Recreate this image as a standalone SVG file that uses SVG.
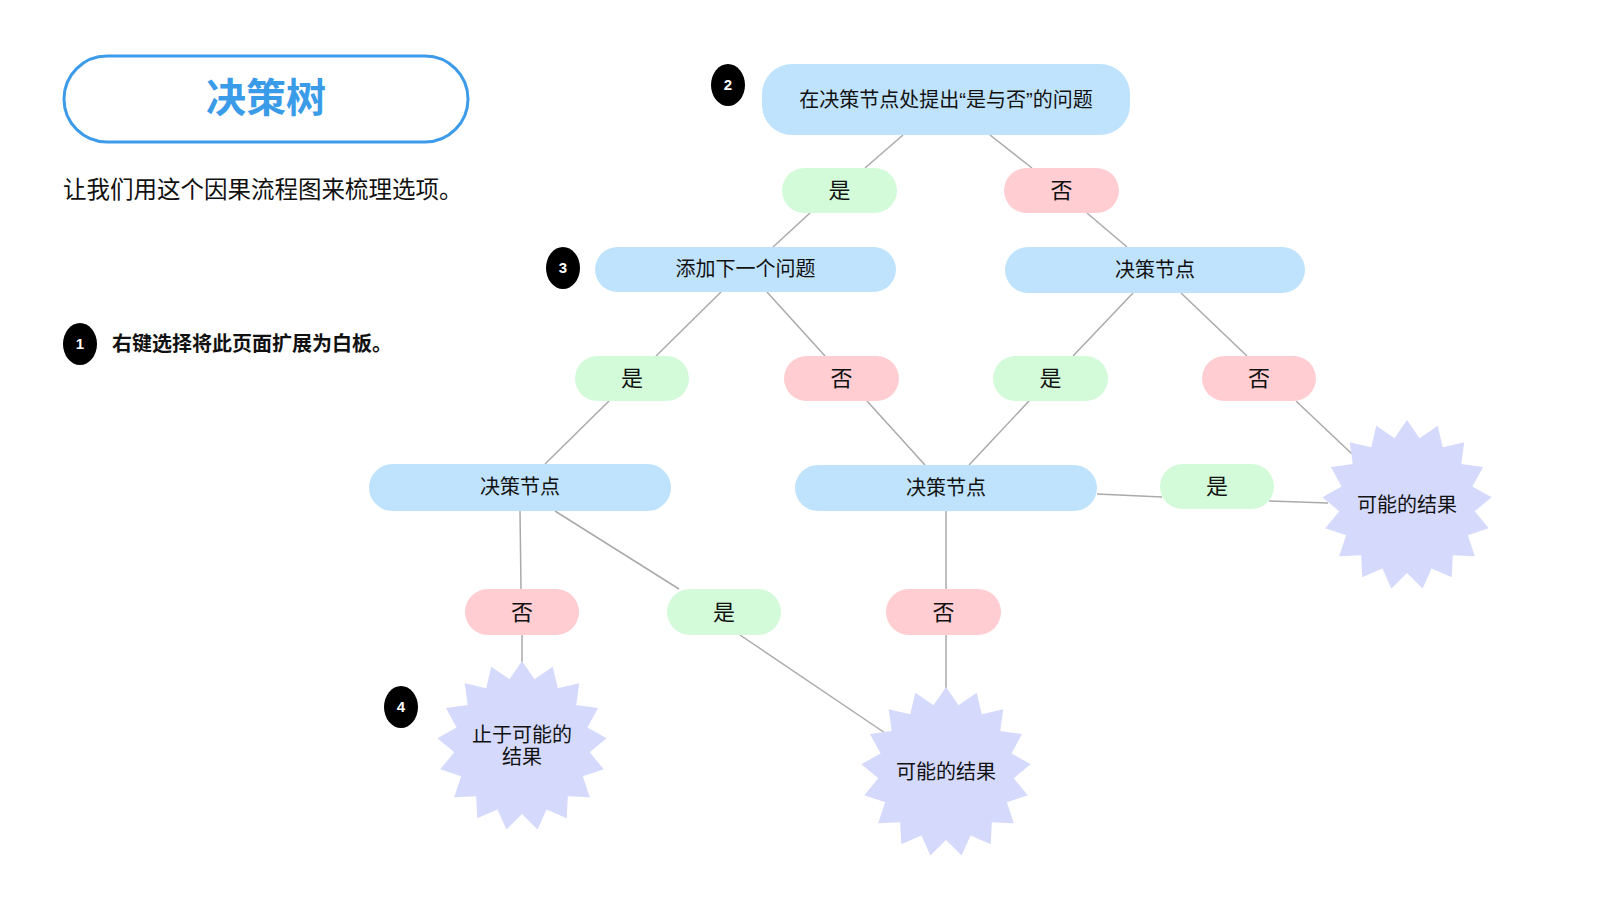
<svg xmlns="http://www.w3.org/2000/svg" xmlns:xlink="http://www.w3.org/1999/xlink" width="1600" height="900" viewBox="0 0 1600 900">
<style>
text{font-family:"Liberation Sans","Noto Sans CJK SC",sans-serif;fill:#111;}
.node{fill:#bfe3fd;}
.yes{fill:#d3fbd9;}
.no{fill:#ffcdd2;}
.star{fill:#d5dafd;}
.nt{font-size:20px;text-anchor:middle;}
.pt{font-size:22px;text-anchor:middle;}
.badge{fill:#000;}
.bt{font-size:15px;font-weight:bold;fill:#fff;text-anchor:middle;}
#connectors line{stroke:#aaaaaa;stroke-width:1.5;fill:none;}
</style>
<defs>
<polygon id="starShape" points="0,-85 12.5,-66.84 30.71,-79.26 35.8,-57.81 57.26,-62.82 54.27,-40.98 76.09,-37.89 65.4,-18.61 84.64,-7.84 67.71,6.27 81.76,23.26 60.87,30.31 67.83,51.22 45.81,50.25 44.75,72.27 24.56,63.41 15.62,83.55 0,68 -15.62,83.55 -24.56,63.41 -44.75,72.27 -45.81,50.25 -67.83,51.22 -60.87,30.31 -81.76,23.26 -67.71,6.27 -84.64,-7.84 -65.4,-18.61 -76.09,-37.89 -54.27,-40.98 -57.26,-62.82 -35.8,-57.81 -30.71,-79.26 -12.5,-66.84"/>
</defs>
<rect width="1600" height="900" fill="#fff"/>

<g id="title">
<rect x="64" y="56" width="404" height="86" rx="43" ry="43" fill="#fff" stroke="#3d9be9" stroke-width="3"/>
<text x="266" y="112" style="font-size:40px;font-weight:bold;fill:#3a9be9;text-anchor:middle;">决策树</text>
</g>
<g id="subtitle">
<text x="63" y="198" style="font-size:23.5px;">让我们用这个因果流程图来梳理选项。</text>
</g>
<g id="note1">
<ellipse class="badge" cx="80" cy="344" rx="17" ry="21"/>
<text class="bt" x="80" y="349">1</text>
<text x="112" y="351" style="font-size:20px;font-weight:bold;">右键选择将此页面扩展为白板。</text>
</g>

<g id="connectors">
<line x1="903" y1="135" x2="865" y2="168"/>
<line x1="990" y1="135" x2="1032" y2="168"/>
<line x1="810" y1="213" x2="773" y2="247"/>
<line x1="1087" y1="213" x2="1127" y2="247"/>
<line x1="721" y1="292" x2="656" y2="356"/>
<line x1="767" y1="292" x2="825" y2="356"/>
<line x1="1133" y1="293" x2="1073" y2="356"/>
<line x1="1181" y1="293" x2="1247" y2="356"/>
<line x1="609" y1="401" x2="545" y2="464"/>
<line x1="867" y1="401" x2="925" y2="465"/>
<line x1="1029" y1="401" x2="969" y2="465"/>
<line x1="1296" y1="401" x2="1352" y2="454"/>
<line x1="1097" y1="494" x2="1162" y2="497"/>
<line x1="1269" y1="501" x2="1328" y2="503"/>
<line x1="520" y1="511" x2="521" y2="589"/>
<line x1="555" y1="511" x2="679" y2="589"/>
<line x1="946" y1="511" x2="946" y2="589"/>
<line x1="522" y1="635" x2="522" y2="663"/>
<line x1="740" y1="635" x2="888" y2="735"/>
<line x1="946" y1="635" x2="946" y2="689"/>
</g>

<g id="badge2"><ellipse class="badge" cx="728" cy="85" rx="17" ry="21"/><text class="bt" x="728" y="90">2</text></g>
<g id="badge3"><ellipse class="badge" cx="563" cy="268" rx="17" ry="21"/><text class="bt" x="563" y="273">3</text></g>
<g id="badge4"><ellipse class="badge" cx="401" cy="707" rx="17" ry="21"/><text class="bt" x="401" y="712">4</text></g>

<g id="n-root"><rect class="node" x="762" y="64" width="368" height="71" rx="30"/><text class="nt" x="946" y="107">在决策节点处提出“是与否”的问题</text></g>

<g id="p-yes1"><rect class="yes" x="782" y="168" width="115" height="45" rx="22.5"/><text class="pt" x="839.5" y="198">是</text></g>
<g id="p-no1"><rect class="no" x="1004" y="168" width="115" height="45" rx="22.5"/><text class="pt" x="1061.5" y="198">否</text></g>

<g id="n-add"><rect class="node" x="595" y="247" width="301" height="45" rx="22.5"/><text class="nt" x="745.5" y="276">添加下一个问题</text></g>
<g id="n-decR"><rect class="node" x="1005" y="247" width="300" height="46" rx="23"/><text class="nt" x="1155" y="277">决策节点</text></g>

<g id="p-yes2"><rect class="yes" x="575" y="356" width="114" height="45" rx="22.5"/><text class="pt" x="632" y="386">是</text></g>
<g id="p-no2"><rect class="no" x="784" y="356" width="115" height="45" rx="22.5"/><text class="pt" x="841.5" y="386">否</text></g>
<g id="p-yes3"><rect class="yes" x="993" y="356" width="115" height="45" rx="22.5"/><text class="pt" x="1050.5" y="386">是</text></g>
<g id="p-no3"><rect class="no" x="1202" y="356" width="114" height="45" rx="22.5"/><text class="pt" x="1259" y="386">否</text></g>

<g id="n-decL"><rect class="node" x="369" y="464" width="302" height="47" rx="23.5"/><text class="nt" x="520" y="494">决策节点</text></g>
<g id="n-decM"><rect class="node" x="795" y="465" width="302" height="46" rx="23"/><text class="nt" x="946" y="495">决策节点</text></g>
<g id="p-yes4"><rect class="yes" x="1160" y="464" width="114" height="45" rx="22.5"/><text class="pt" x="1217" y="494">是</text></g>

<g id="p-no5"><rect class="no" x="465" y="589" width="114" height="46" rx="23"/><text class="pt" x="522" y="620">否</text></g>
<g id="p-yes5"><rect class="yes" x="667" y="589" width="114" height="46" rx="23"/><text class="pt" x="724" y="620">是</text></g>
<g id="p-no6"><rect class="no" x="886" y="589" width="115" height="46" rx="23"/><text class="pt" x="943.5" y="620">否</text></g>

<g id="s-right"><use xlink:href="#starShape" href="#starShape" class="star" transform="translate(1407,505)"/><text class="nt" x="1407" y="512">可能的结果</text></g>
<g id="s-mid"><use xlink:href="#starShape" href="#starShape" class="star" transform="translate(946,772)"/><text class="nt" x="946" y="779">可能的结果</text></g>
<g id="s-left"><use xlink:href="#starShape" href="#starShape" class="star" transform="translate(522,746)"/><text class="nt" x="522" y="742">止于可能的</text><text class="nt" x="522" y="764">结果</text></g>
</svg>
